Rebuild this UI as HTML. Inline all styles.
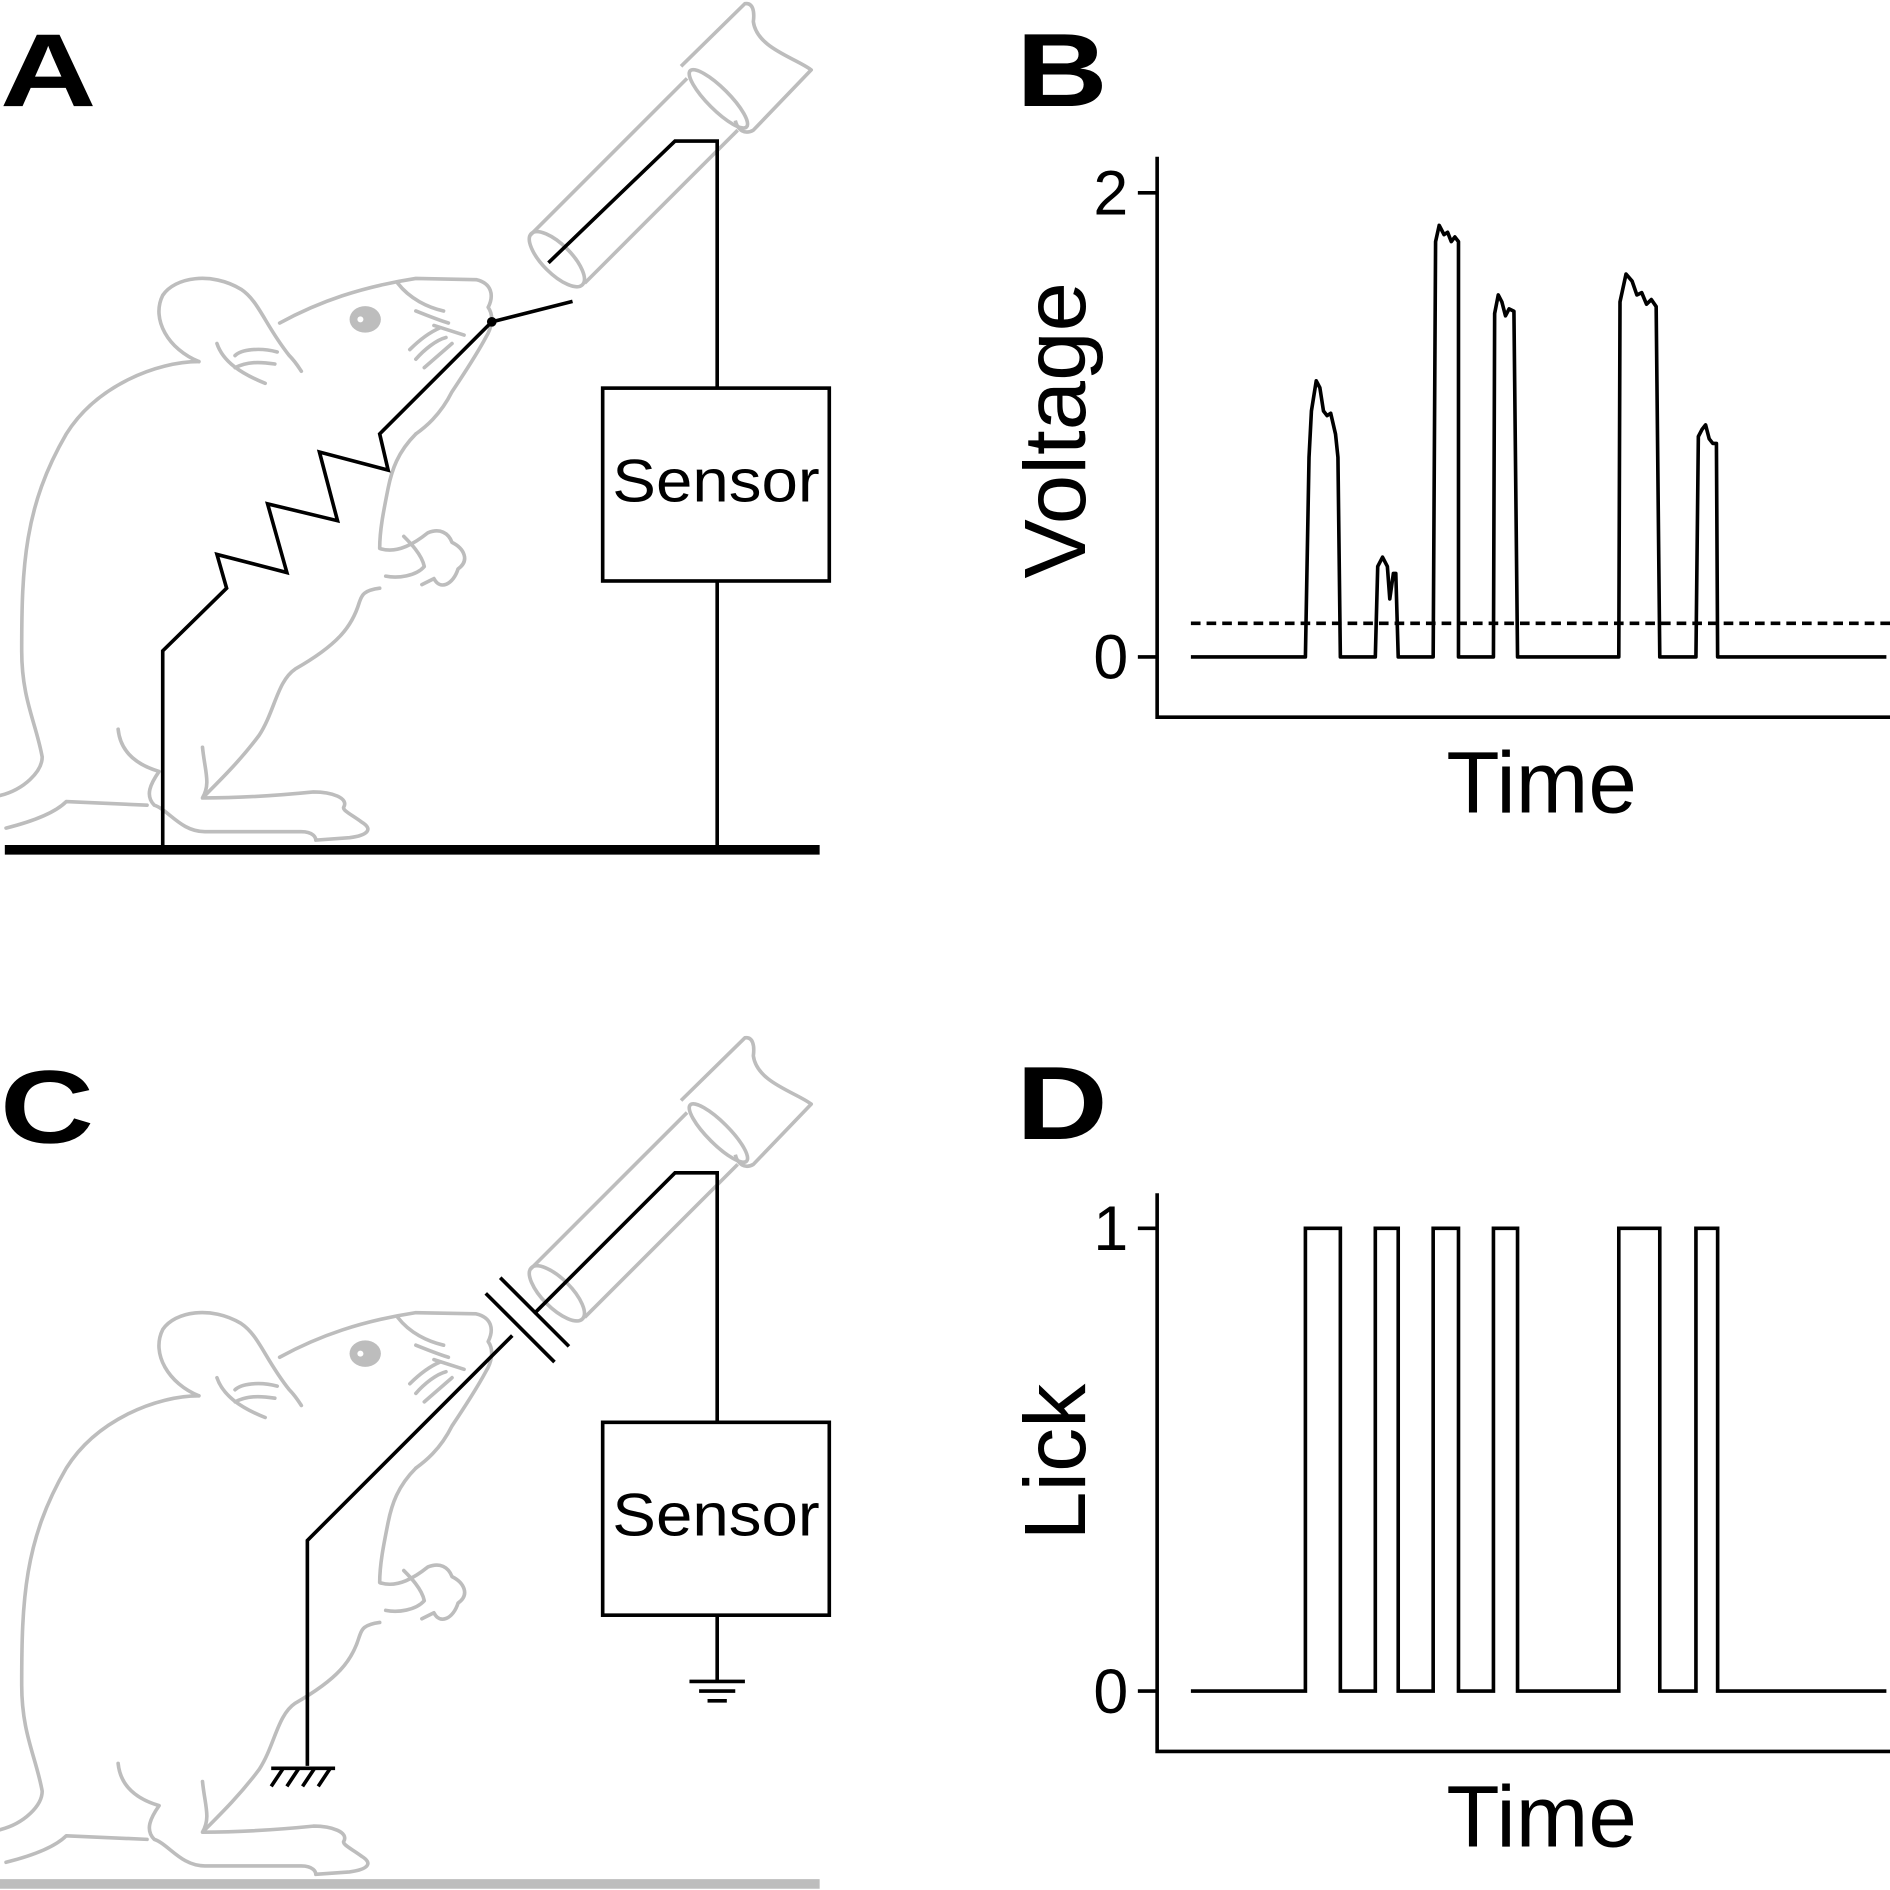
<!DOCTYPE html>
<html><head><meta charset="utf-8"><style>
html,body{margin:0;padding:0;background:#fff}
svg{display:block}
text{font-family:"Liberation Sans",sans-serif}
</style></head><body>
<svg id="fig" width="1890" height="1890" viewBox="0 0 1568 1568" xmlns="http://www.w3.org/2000/svg">
<defs>
<g id="mouse" fill="none" stroke="#bdbdbd" stroke-width="3" stroke-linecap="round" stroke-linejoin="round">
  <path d="M0,660 C20,655 35,640 35,628 C30,600 18,580 18,540 C18,470 20,420 55,360 C80,320 130,300 165,300"/>
  <path d="M165,300 C140,290 125,265 135,245 C145,230 175,225 200,240 C215,250 220,270 240,295 C245,300 248,305 250,308"/>
  <path d="M180,285 C185,300 200,310 220,318 M195,295 C200,290 215,288 230,292 M195,305 C205,300 215,300 228,302"/>
  <path d="M232,268 C265,250 300,238 345,231 L395,232 C408,235 410,245 405,255 C410,262 408,272 403,280 C395,295 385,310 375,325 C365,345 352,355 345,360"/>
  <path d="M345,360 C330,375 325,390 322,405 C318,425 315,440 315,455 C330,460 345,450 355,442 C365,438 372,442 375,450 C385,455 390,465 380,472 C376,485 365,490 360,480 L350,485"/>
  <path d="M335,445 C340,450 350,460 352,470 C345,478 330,480 320,478"/>
  <path d="M315,488 C300,490 300,495 298,500 C292,520 280,535 245,555 C230,565 228,590 215,610 C200,630 185,645 170,660"/>
  <path d="M98,605 C100,625 115,635 132,640 C125,650 120,660 128,668 C140,672 150,690 170,690 L250,690 C260,690 262,695 262,697 L290,695 C305,693 310,688 300,682 C292,676 285,673 285,670 C290,662 275,657 260,657 C230,660 195,662 168,662 C175,650 170,640 168,620"/>
  <path d="M5,687 C25,682 45,675 55,665 L122,668"/>
  <path d="M330,235 C340,248 355,255 368,258 M345,258 C355,262 365,266 372,268 M360,270 L385,278 M340,290 C350,280 358,275 365,272 M345,298 C352,290 362,282 370,280 M352,305 L375,285"/>
  <ellipse cx="303" cy="265" rx="13" ry="11" fill="#bdbdbd" stroke="none"/>
  <circle cx="299" cy="265" r="2.5" fill="#fff" stroke="none"/>
</g>
<g id="bottle" fill="none" stroke="#bdbdbd" stroke-width="3" stroke-linejoin="round">
  <line x1="440" y1="195" x2="570" y2="65"/>
  <line x1="485" y1="235" x2="612" y2="108"/>
  <ellipse cx="462" cy="215" rx="30" ry="12" transform="rotate(45 462 215)"/>
  <ellipse cx="596" cy="82" rx="33" ry="9" transform="rotate(45 596 82)"/>
  <path d="M565,55 L618,3 C625,2 626,10 625,18 C628,40 660,48 673,58 L625,108 C618,112 612,108 610,100"/>
</g>
</defs>

<!-- Panel A -->
<text x="0" y="88" font-size="86" font-weight="bold" textLength="80" lengthAdjust="spacingAndGlyphs">A</text>
<use href="#mouse"/>
<use href="#bottle"/>
<g fill="none" stroke="#000" stroke-width="3">
  <polyline points="455,218 560,117 595,117 595,322"/>
  <rect x="500" y="322" width="188" height="160"/>
  <line x1="595" y1="482" x2="595" y2="703"/>
  <polyline points="135,703 135,540 188,488 180,460 238,475 222,418 280,432 265,375 322,390 315,360 408,267 475,250"/>
</g>
<circle cx="408" cy="267" r="4" fill="#000"/>
<line x1="4" y1="705" x2="680" y2="705" stroke="#000" stroke-width="8"/>
<text x="508" y="416" font-size="50" textLength="172" lengthAdjust="spacingAndGlyphs">Sensor</text>

<!-- Panel C -->
<text x="0" y="948" font-size="86" font-weight="bold" textLength="78" lengthAdjust="spacingAndGlyphs">C</text>
<use href="#mouse" transform="translate(0,858)"/>
<use href="#bottle" transform="translate(0,858)"/>
<g fill="none" stroke="#000" stroke-width="3">
  <polyline points="255,1465 255,1278 425,1108"/>
  <line x1="403" y1="1073" x2="460" y2="1130"/>
  <line x1="415" y1="1060" x2="472" y2="1117"/>
  <polyline points="443,1090 560,973 595,973 595,1180"/>
  <rect x="500" y="1180" width="188" height="160"/>
  <line x1="595" y1="1340" x2="595" y2="1395"/>
  <line x1="572" y1="1395" x2="618" y2="1395"/>
  <line x1="580" y1="1403" x2="610" y2="1403"/>
  <line x1="587" y1="1411" x2="603" y2="1411"/>
  <line x1="225" y1="1467" x2="278" y2="1467"/>
  <path d="M235,1467 l-10,15 M248,1467 l-10,15 M261,1467 l-10,15 M274,1467 l-10,15"/>
</g>
<line x1="0" y1="1563" x2="680" y2="1563" stroke="#bdbdbd" stroke-width="8"/>
<text x="508" y="1274" font-size="50" textLength="172" lengthAdjust="spacingAndGlyphs">Sensor</text>

<!-- Panel B -->
<text x="843" y="88" font-size="86" font-weight="bold" textLength="76" lengthAdjust="spacingAndGlyphs">B</text>
<g id="chartB"></g>
<!-- Panel D -->
<text x="843" y="945" font-size="86" font-weight="bold" textLength="76" lengthAdjust="spacingAndGlyphs">D</text>
<g id="chartD"></g>
</svg>
<script>
// time in arbitrary units (0..577)
const voltTimes = [0,95,98,100,104,107,110,113,116,120,122,124,
  153,155,159,163,165,168,170,172,
  201,203,206,210,213,216,219,222,222,
  251,252,255,258,261,264,268,271,
  355,356,361,366,370,374,378,382,386,389,
  419,421,424,427,430,433,436,437,577];
const voltValues = [0,0,0.86,1.06,1.19,1.16,1.06,1.04,1.05,0.96,0.86,0,
  0,0.39,0.43,0.39,0.25,0.36,0.36,0,
  0,1.79,1.86,1.82,1.83,1.79,1.81,1.79,0,
  0,1.48,1.56,1.53,1.47,1.50,1.49,0,
  0,1.53,1.65,1.62,1.56,1.57,1.52,1.54,1.51,0,
  0,0.95,0.98,1.00,0.94,0.92,0.92,0,0];
const threshold = 0.145;
const voltTicks = [0,2];
const lickStarts = [95,153,201,251,355,419];
const lickEnds = [124,172,222,271,389,437];
const lickTicks = [0,1];
const NS = "http://www.w3.org/2000/svg";
function mk(parent, tag, attrs){const e=document.createElementNS(NS,tag);for(const k in attrs)e.setAttribute(k,attrs[k]);parent.appendChild(e);return e;}
const xs = t => 988 + t*(1565-988)/577;

function axes(g, y0px, perUnit, axTop, axBot, ticks, label, labelY, labelLen){
  const ys = v => y0px - v*perUnit;
  const ax = mk(g,'polyline',{points:`960,${axTop} 960,${axBot} 1568,${axBot}`,fill:'none',stroke:'#000','stroke-width':3});
  
  
  ticks.forEach(v=>{
    const tk = mk(g,'line',{x1:944,x2:960,y1:ys(v),y2:ys(v),stroke:'#000','stroke-width':3});
    
    
    const tl = mk(g,'text',{x:936,y:ys(v)+18,'font-size':52,'text-anchor':'end'});
    tl.textContent = v;
    
    
  });
  const yt = mk(g,'text',{x:-labelLen/2,y:0,'font-size':72,textLength:labelLen,lengthAdjust:'spacingAndGlyphs',transform:`translate(900,${labelY}) rotate(-90)`});
  yt.textContent = label;
  
  
  const xt = mk(g,'text',{x:1200,y:axBot+79,'font-size':72,textLength:158,lengthAdjust:'spacingAndGlyphs'});
  xt.textContent = 'Time';
  
  
  return ys;
}
// B
const gB = document.getElementById('chartB');
const ysB = axes(gB, 545, 192.5, 130, 595, voltTicks, 'Voltage', 357, 246);
const th = mk(gB,'line',{x1:988,x2:1568,y1:ysB(threshold),y2:ysB(threshold),stroke:'#000','stroke-width':3,'stroke-dasharray':'8,5'});


const vl = mk(gB,'polyline',{points:voltTimes.map((t,i)=>`${xs(t)},${ysB(voltValues[i])}`).join(' '),fill:'none',stroke:'#000','stroke-width':3,'stroke-linejoin':'round'});


// D
const gD = document.getElementById('chartD');
const ysD = axes(gD, 1403, 384, 990, 1453, lickTicks, 'Lick', 1213, 130);
const pts = [[0,0]];
lickStarts.forEach((s,i)=>{pts.push([s,0],[s,1],[lickEnds[i],1],[lickEnds[i],0]);});
pts.push([577,0]);
const ll = mk(gD,'polyline',{points:pts.map(p=>`${xs(p[0])},${ysD(p[1])}`).join(' '),fill:'none',stroke:'#000','stroke-width':3});


</script>
</body></html>
